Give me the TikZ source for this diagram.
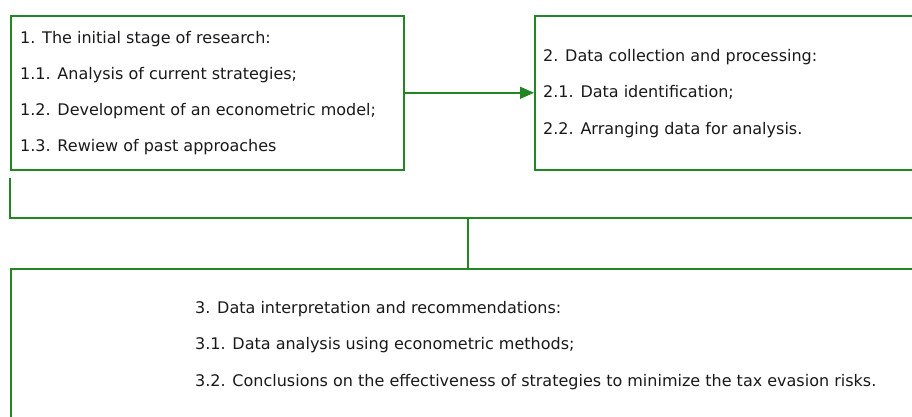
\documentclass[tikz,border=0pt]{standalone}
\usepackage{fontspec}
\setmainfont{DejaVu Sans}
\usetikzlibrary{arrows.meta}
\definecolor{lgreen}{RGB}{34,134,34}
\tikzset{
  box/.style={draw=lgreen, line width=1.6pt, rectangle, inner sep=0pt, anchor=north west},
  txt/.style={anchor=base west, inner sep=0pt, font=\fontsize{16pt}{19pt}\selectfont, text=black!90},
  conn/.style={draw=lgreen, line width=1.6pt},
}
\begin{document}
\begin{tikzpicture}[x=1pt,y=-1pt]
\useasboundingbox (0,0) rectangle (912,417);
\clip (0,0) rectangle (912,417);
% boxes
\node[box, minimum width=393pt, minimum height=154pt] (box1) at (10,15) {};
\node[box, minimum width=390pt, minimum height=154pt] (box2) at (534,15) {};
\node[box, minimum width=910pt, minimum height=160pt] (box3) at (10,268) {};
% texts box 1
\node[txt] (t10) at (20,43.5) {1. The initial stage of research:};
\node[txt] (t11) at (20,79.5) {1.1. Analysis of current strategies;};
\node[txt] (t12) at (20,115.5) {1.2. Development of an econometric model;};
\node[txt] (t13) at (20,151.5) {1.3. Rewiew of past approaches};
% texts box 2
\node[txt] (t20) at (543,61.7) {2. Data collection and processing:};
\node[txt] (t21) at (543,98) {2.1. Data identification;};
\node[txt] (t22) at (543,134.3) {2.2. Arranging data for analysis.};
% texts box 3
\node[txt] (t30) at (195,313) {3. Data interpretation and recommendations:};
\node[txt] (t31) at (195,349.5) {3.1. Data analysis using econometric methods;};
\node[txt] (t32) at (195,386) {3.2. Conclusions on the effectiveness of strategies to minimize the tax evasion risks.};
% connectors
\draw[conn, -{Triangle[length=14pt, width=12pt]}] (box1.east) -- (box2.west);
\coordinate (c1) at (10,178);
\coordinate (c2) at (10,218);
\coordinate (c3) at (920,218);
\coordinate (mid) at (468,218);
\draw[conn] (c1) -- (c2) -- (c3);
\draw[conn] (mid) -- (mid |- box3.north);
\end{tikzpicture}
\end{document}
